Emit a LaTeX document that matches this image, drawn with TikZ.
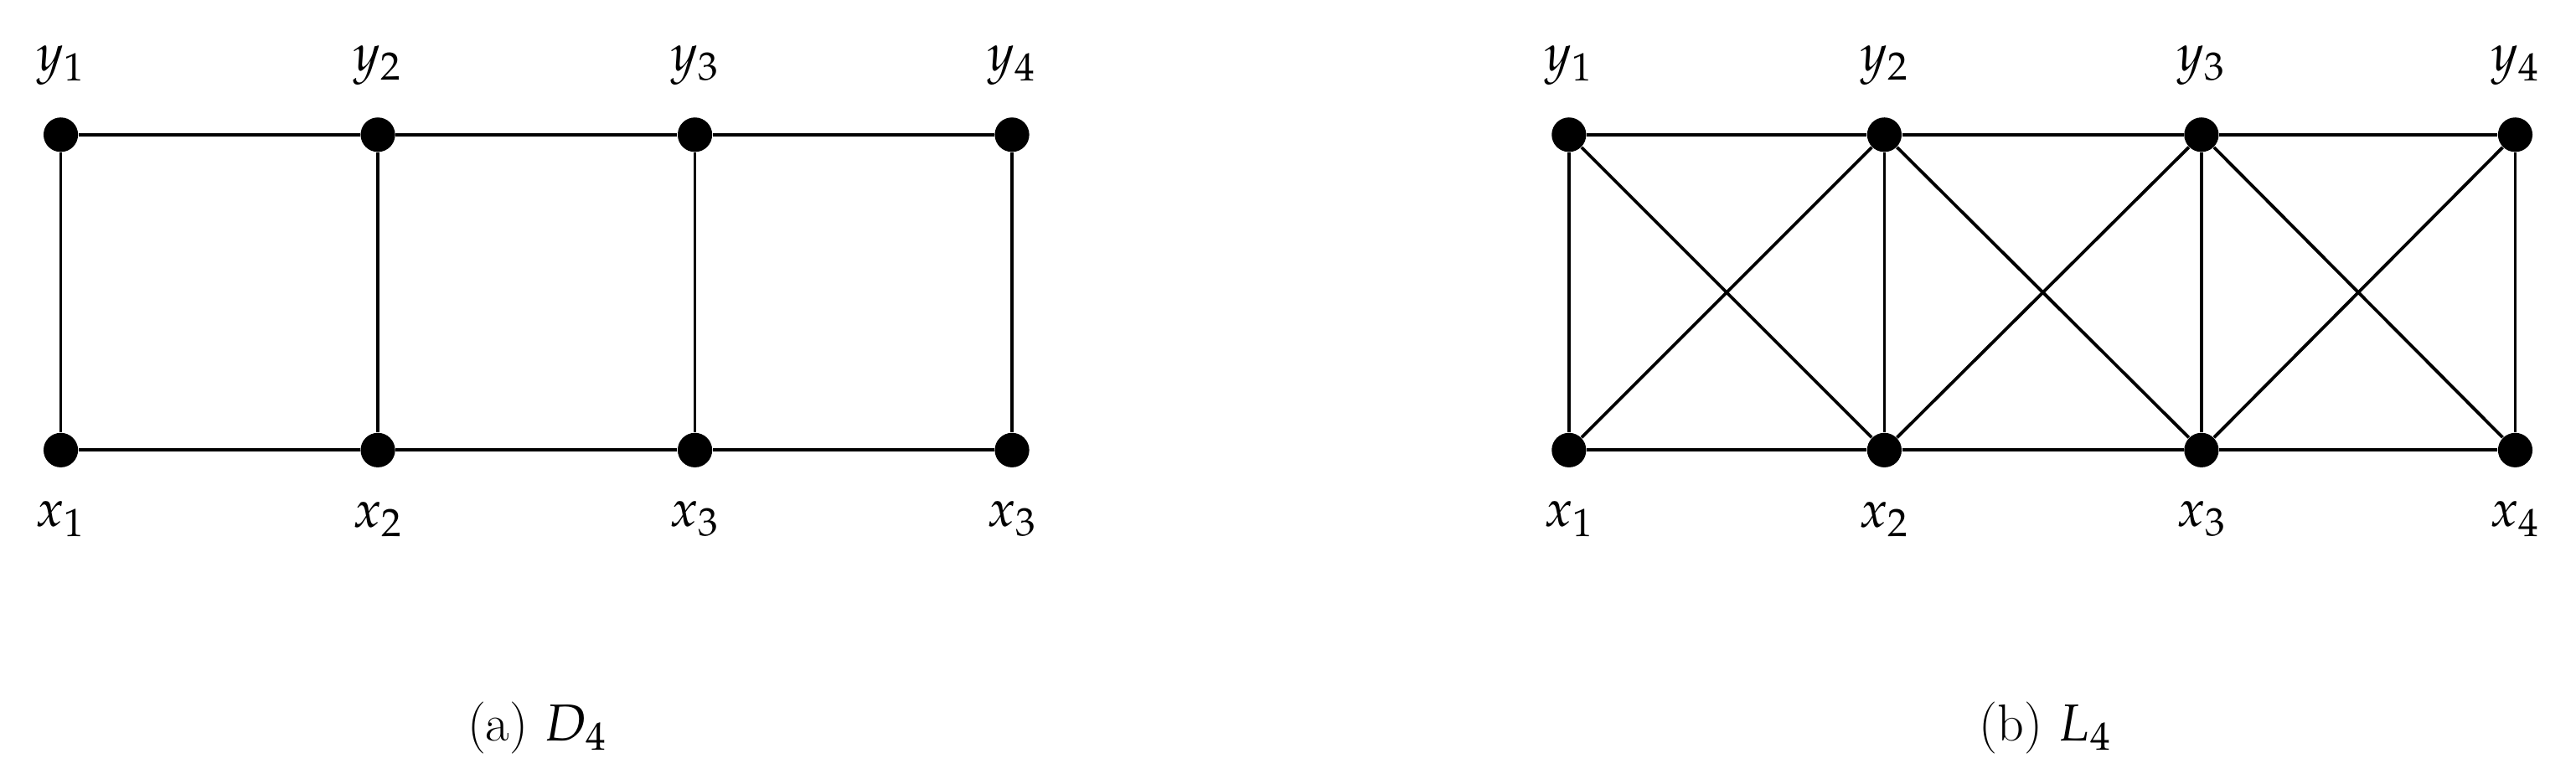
\documentclass[tikz,border=0pt]{standalone}
\usepackage{mathpazo}
\begin{document}
\begin{tikzpicture}[x=0.02cm,y=-0.02cm,
  vtx/.style={circle,fill=black,inner sep=0pt,minimum size=0.42cm},
  lbl/.style={font=\fontfamily{ppl}\fontsize{18}{22}\selectfont},
  edge/.style={line width=1.1pt}]
\useasboundingbox (0,0) rectangle (1568,474);
% left graph D4
\foreach \i/\x in {1/37,2/230,3/423,4/616}{
  \node[vtx] (ay\i) at (\x,82) {};
  \node[vtx] (ax\i) at (\x,274) {};
}
\foreach \i/\x/\s in {1/37/1,2/230/2,3/423/3,4/616/4}{
  \node[lbl] (lay\i) at (\x,40) {$y_{\s}$};
}
\foreach \i/\x/\s in {1/37/1,2/230/2,3/423/3,4/616/3}{
  \node[lbl] (lax\i) at (\x,316) {$x_{\s}$};
}
\draw[edge] (ay1)--(ay2)--(ay3)--(ay4) (ax1)--(ax2)--(ax3)--(ax4);
\foreach \i in {1,...,4}{\draw[edge] (ay\i)--(ax\i);}
% right graph L4
\foreach \i/\x in {1/955,2/1147,3/1340,4/1531}{
  \node[vtx] (by\i) at (\x,82) {};
  \node[vtx] (bx\i) at (\x,274) {};
  \node[lbl] (lby\i) at (\x,40) {$y_{\i}$};
  \node[lbl] (lbx\i) at (\x,316) {$x_{\i}$};
}
\draw[edge] (by1)--(by2)--(by3)--(by4) (bx1)--(bx2)--(bx3)--(bx4);
\foreach \i in {1,...,4}{\draw[edge] (by\i)--(bx\i);}
\foreach \i/\j in {1/2,2/3,3/4}{\draw[edge] (by\i)--(bx\j) (bx\i)--(by\j);}
% captions
\node[lbl] (capa) at (327,443) {({\fontseries{b}\selectfont a}) $D_4$};
\node[lbl] (capb) at (1245,443) {({\fontseries{b}\selectfont b}) $L_4$};
\end{tikzpicture}
\end{document}
